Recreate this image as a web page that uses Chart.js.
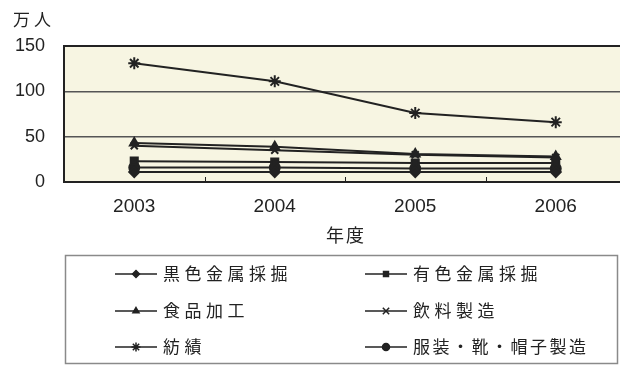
<!DOCTYPE html>
<html>
<head>
<meta charset="utf-8">
<script src="https://cdn.jsdelivr.net/npm/chart.js@4/dist/chart.umd.min.js"></script>
<style>
  html, body { margin: 0; padding: 0; background: #ffffff; overflow: hidden; }
  #wrap { position: relative; width: 640px; height: 366px; }
</style>
</head>
<body>
<div id="wrap"><canvas id="c"></canvas></div>
<script>
// 年度
const years = ['2003', '2004', '2005', '2006'];
// 就業者数（万人）
const ferrousMining   = [11, 11, 11, 11];   // 黒色金属採掘
const nonferrousMining = [23, 22, 21, 21];  // 有色金属採掘
const foodProcessing  = [43, 39, 31, 28];   // 食品加工
const beverage        = [40, 35, 30, 27];   // 飲料製造
const textile         = [131, 111, 76, 66]; // 紡績
const apparel         = [16, 16, 15, 15];   // 服装・靴・帽子製造
const yTicks = [0, 50, 100, 150];

const INK = '#222222';
const FONT_CJK = '"Noto Sans CJK JP", "Noto Sans CJK SC", sans-serif';
const FONT_NUM = '"Liberation Sans", Arial, sans-serif';

function series(label, data, style, radius) {
  return {
    label, data,
    borderColor: INK, backgroundColor: INK,
    borderWidth: 2,
    pointStyle: style, pointRadius: radius, pointBorderWidth: 2,
    pointBackgroundColor: INK, pointBorderColor: INK,
    tension: 0, fill: false
  };
}

const datasets = [
  series('黒色金属採掘', ferrousMining, 'rectRot', 5),
  series('有色金属採掘', nonferrousMining, 'rect', 5),
  series('食品加工', foodProcessing, 'triangle', 5),
  series('飲料製造', beverage, 'crossRot', 5),
  series('紡績', textile, 'star', 6),
  series('服装・靴・帽子製造', apparel, 'circle', 5)
];

// 背景・枠・目盛・凡例などの描画
const decor = {
  id: 'decor',
  beforeDraw(chart) {
    const { ctx, chartArea: a } = chart;
    ctx.save();
    ctx.fillStyle = '#f7f5e2';
    ctx.fillRect(a.left, a.top, a.right - a.left, a.bottom - a.top);
    ctx.restore();
  },
  afterDraw(chart) {
    const { ctx, chartArea: a } = chart;
    const xs = chart.scales.x;
    ctx.save();
    // plot frame
    ctx.strokeStyle = INK;
    ctx.lineWidth = 2;
    ctx.strokeRect(a.left, a.top, a.right - a.left, a.bottom - a.top);
    // inward tick marks between categories
    ctx.lineWidth = 1;
    for (let i = 0; i < years.length - 1; i++) {
      const x = Math.round((xs.getPixelForValue(i) + xs.getPixelForValue(i + 1)) / 2) + 0.5;
      ctx.beginPath();
      ctx.moveTo(x, a.bottom - 5);
      ctx.lineTo(x, a.bottom);
      ctx.stroke();
    }
    // unit label
    ctx.fillStyle = INK;
    ctx.font = '17px ' + FONT_CJK;
    ctx.textBaseline = 'middle';
    ctx.textAlign = 'left';
    ctx.letterSpacing = '4px';
    ctx.fillText('万人', 13, 20);
    // axis title
    ctx.font = '18px ' + FONT_CJK;
    ctx.textAlign = 'center';
    ctx.letterSpacing = '2px';
    ctx.fillText('年度', (a.left + a.right) / 2 + 1, 235);
    ctx.letterSpacing = '0px';

    // legend box
    ctx.strokeStyle = '#8a8a8a';
    ctx.lineWidth = 1.5;
    ctx.strokeRect(65.5, 255.5, 552, 108);
    const cols = [115, 365];
    const rows = [274, 311, 347];
    ctx.font = '17px ' + FONT_CJK;
    ctx.textAlign = 'left';
    ctx.textBaseline = 'middle';
    chart.data.datasets.forEach((ds, i) => {
      const x0 = cols[i % 2];
      const y = rows[Math.floor(i / 2)];
      ctx.strokeStyle = INK;
      ctx.lineWidth = 1.5;
      ctx.beginPath();
      ctx.moveTo(x0, y);
      ctx.lineTo(x0 + 42, y);
      ctx.stroke();
      Chart.helpers.drawPoint(ctx, {
        pointStyle: ds.pointStyle,
        radius: ds.pointStyle === 'star' || ds.pointStyle === 'crossRot' ? 4.5 : 3.5,
        rotation: 0,
        borderWidth: 1.5
      }, x0 + 21, y);
      ctx.fillStyle = INK;
      ctx.letterSpacing = ds.label.length > 6 ? '2.5px' : '4.5px';
      ctx.fillText(ds.label, x0 + 48, y);
      ctx.letterSpacing = '0px';
    });
    ctx.restore();
  }
};

new Chart(document.getElementById('c'), {
  type: 'line',
  data: { labels: years, datasets },
  options: {
    responsive: true,
    maintainAspectRatio: false,
    animation: false,
    layout: { padding: { top: 46, right: 14, left: 0, bottom: 0 } },
    plugins: { legend: { display: false }, tooltip: { enabled: false } },
    scales: {
      x: {
        type: 'category',
        offset: true,
        grid: { display: false, drawTicks: false },
        border: { display: false },
        ticks: { color: INK, font: { family: FONT_NUM, size: 19 }, padding: 13 },
        afterFit(scale) { scale.height = 184; }
      },
      y: {
        min: 0, max: 150,
        afterBuildTicks(scale) { scale.ticks = yTicks.map(v => ({ value: v })); },
        grid: {
          drawTicks: false,
          color: ctx => (ctx.tick && (ctx.tick.value === 50 || ctx.tick.value === 100)) ? '#555555' : 'rgba(0,0,0,0)',
          lineWidth: 1.5
        },
        border: { display: false },
        ticks: { color: INK, font: { family: FONT_NUM, size: 18 }, padding: 19 },
        afterFit(scale) { scale.width = 64; }
      }
    }
  },
  plugins: [decor]
});
</script>
</body>
</html>
